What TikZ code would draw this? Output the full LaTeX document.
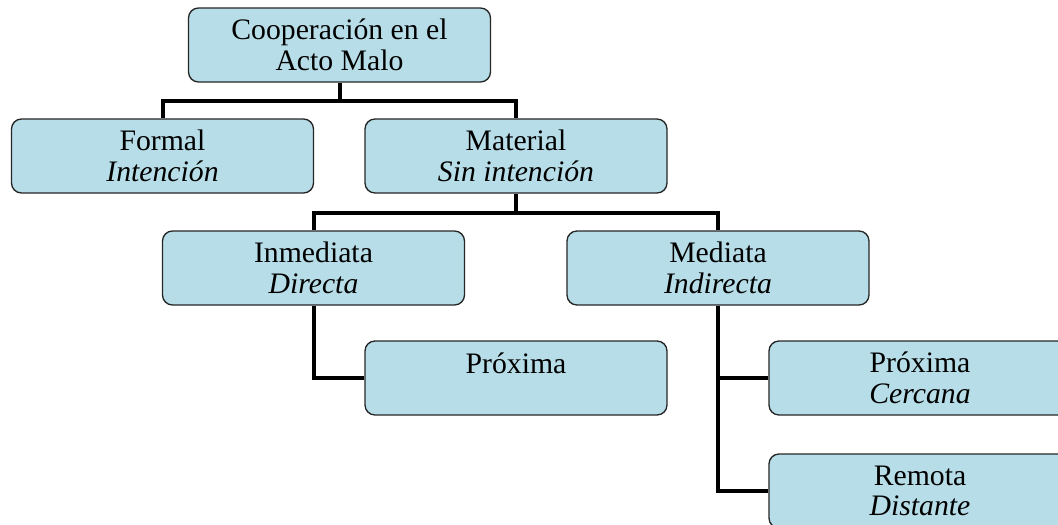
\documentclass[tikz,border=0pt]{standalone}
\usepackage{fontspec}
\setmainfont{Liberation Serif}
\definecolor{boxfill}{HTML}{B7DEE8}
\begin{document}
\begin{tikzpicture}[x=0.75pt,y=-0.75pt,
  box/.style={draw=black!85, line width=1pt, fill=boxfill, rounded corners=7.5pt,
    minimum width=226.5pt, minimum height=55.5pt, align=center, inner sep=0pt,
    font=\fontsize{22.3}{22.8}\selectfont},
  link/.style={line width=3pt, line join=miter}]
\useasboundingbox (0,0) rectangle (1058,525);
\clip (0,0) rectangle (1058,525);
\node[box] (root) at (339.5,45) {Cooperación en el\\Acto Malo};
\node[box] (formal) at (162.5,156) {Formal\\\textit{Intención}};
\node[box] (material) at (516,156) {Material\\\textit{Sin intención}};
\node[box] (inm) at (313.5,268) {Inmediata\\\textit{Directa}};
\node[box] (med) at (718,268) {Mediata\\\textit{Indirecta}};
\node[box] (prox1) at (516,378) {Próxima\\\mbox{}};
\node[box] (prox2) at (920,378) {Próxima\\\textit{Cercana}};
\node[box] (rem) at (920,491) {Remota\\\textit{Distante}};
\draw[link] (root.south) -- ++(0,18) coordinate (j1);
\draw[link] (j1) -| (formal.north);
\draw[link] (j1) -| (material.north);
\draw[link] (material.south) -- ++(0,19) coordinate (j2);
\draw[link] (j2) -| (inm.north);
\draw[link] (j2) -| (med.north);
\draw[link] (inm.south) |- (prox1.west);
\draw[link] (med.south) |- (prox2.west);
\draw[link] (med.south) |- (rem.west);
\end{tikzpicture}
\end{document}
